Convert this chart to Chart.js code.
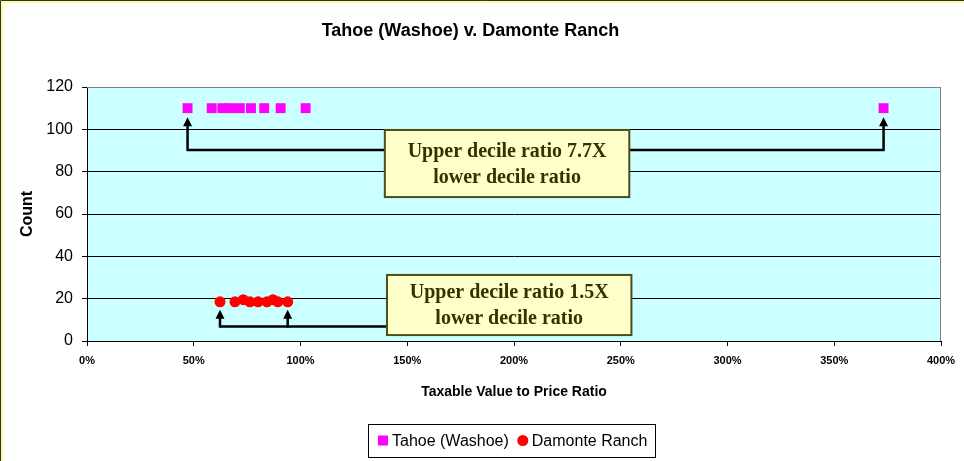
<!DOCTYPE html>
<html>
<head>
<meta charset="utf-8">
<script src="https://cdn.jsdelivr.net/npm/chart.js@4"></script>
<style>
  html, body { margin: 0; padding: 0; background: #fff; }
  #wrap { width: 964px; height: 461px; }
</style>
</head>
<body>
<div id="wrap"><canvas id="chart" width="964" height="461"></canvas></div>
<script>
// ratio (%) and count for each sale
const tahoeRatio = [47.1, 58.4, 63.4, 67.0, 71.6, 76.8, 83.0, 90.7, 102.4, 373.1];
const tahoeCount = [110, 110, 110, 110, 110, 110, 110, 110, 110, 110];
const damonteRatio = [62.3, 69.3, 73.2, 76.3, 80.1, 84.3, 87.1, 89.4, 94.0];
const damonteCount = [18.5, 18.5, 19.5, 18.5, 18.5, 18.5, 19.5, 18.5, 18.5];

const seriesNames = ['Tahoe (Washoe)', 'Damonte Ranch'];
const xTicks = [0, 50, 100, 150, 200, 250, 300, 350, 400];
const yTicks = [0, 20, 40, 60, 80, 100, 120];

const noteTexts = [
  ['Upper decile ratio 7.7X', 'lower decile ratio'],
  ['Upper decile ratio 1.5X', 'lower decile ratio']
];

const SANS = '"Liberation Sans", Arial, sans-serif';
const SERIF = '"Liberation Serif", "Times New Roman", serif';

function toPoints(xs, ys) {
  return xs.map((x, i) => ({ x: x, y: ys[i] }));
}

// light blue plot area, grey frame, thin outer border of the picture
const frame = {
  id: 'frame',
  beforeDraw(chart) {
    const { ctx, chartArea: a } = chart;
    ctx.save();
    ctx.fillStyle = '#fff';
    ctx.fillRect(0, 0, chart.width, chart.height);
    ctx.fillStyle = '#ccffff';
    ctx.fillRect(a.left, a.top, a.right - a.left, a.bottom - a.top);
    ctx.strokeStyle = '#333';
    ctx.lineWidth = 1;
    ctx.beginPath();
    ctx.moveTo(0.5, chart.height); ctx.lineTo(0.5, 0.5); ctx.lineTo(chart.width, 0.5);
    ctx.stroke();
    ctx.strokeStyle = '#ffff99';
    ctx.lineWidth = 2;
    ctx.beginPath();
    ctx.moveTo(2, chart.height); ctx.lineTo(2, 2); ctx.lineTo(chart.width, 2);
    ctx.stroke();
    ctx.restore();
  },
  afterDatasetsDraw(chart) {
    const { ctx, chartArea: a } = chart;
    ctx.save();
    ctx.strokeStyle = '#808080';
    ctx.lineWidth = 1;
    ctx.beginPath();
    ctx.moveTo(a.left, a.top + 0.5);
    ctx.lineTo(a.right - 0.5, a.top + 0.5);
    ctx.lineTo(a.right - 0.5, a.bottom);
    ctx.stroke();
    ctx.restore();
  }
};

// boxed legend under the axis title, centred on the plot area
const boxLegend = {
  id: 'boxLegend',
  afterDraw(chart) {
    const { ctx, chartArea: a } = chart;
    const sets = chart.data.datasets;
    ctx.save();
    ctx.font = '16px ' + SANS;
    const widths = sets.map(ds => ctx.measureText(ds.label).width);
    const itemW = widths.map(w => 10 + 4 + w);
    const gap = 9;
    const padL = 10, padR = 8;
    const total = padL + itemW[0] + gap + itemW[1] + padR;
    const left = Math.round((a.left + a.right) / 2 - total / 2) - 2;
    const top = 424, h = 33, cy = top + h / 2;
    ctx.fillStyle = '#fff';
    ctx.fillRect(left, top, total, h);
    ctx.strokeStyle = '#000';
    ctx.lineWidth = 1;
    ctx.strokeRect(left + 0.5, top + 0.5, Math.round(total), h);
    let x = left + padL;
    ctx.textBaseline = 'middle';
    ctx.textAlign = 'left';
    sets.forEach((ds, i) => {
      ctx.fillStyle = ds.backgroundColor;
      if (ds.pointStyle === 'rect') {
        ctx.fillRect(x, cy - 5, 10, 10);
      } else {
        ctx.beginPath();
        ctx.arc(x + 5, cy, 5.5, 0, Math.PI * 2);
        ctx.fill();
      }
      ctx.fillStyle = '#000';
      ctx.fillText(ds.label, x + 14, cy + 1);
      x += itemW[i] + gap;
    });
    ctx.restore();
  }
};

function arrowUp(ctx, x, yFrom, yTip) {
  ctx.beginPath();
  ctx.moveTo(x, yFrom);
  ctx.lineTo(x, yTip + 8);
  ctx.stroke();
  ctx.beginPath();
  ctx.moveTo(x, yTip);
  ctx.lineTo(x - 4.5, yTip + 9);
  ctx.lineTo(x + 4.5, yTip + 9);
  ctx.closePath();
  ctx.fill();
}

function noteBox(ctx, xs, ys, x1, x2, y1, y2, lines) {
  const l = xs.getPixelForValue(x1), r = xs.getPixelForValue(x2);
  const t = ys.getPixelForValue(y1), b = ys.getPixelForValue(y2);
  ctx.fillStyle = '#ffffcc';
  ctx.fillRect(l, t, r - l, b - t);
  ctx.strokeStyle = '#4d4d1a';
  ctx.lineWidth = 2;
  ctx.strokeRect(l, t, r - l, b - t);
  ctx.fillStyle = '#333300';
  ctx.font = 'bold 20px ' + SERIF;
  ctx.textAlign = 'center';
  ctx.textBaseline = 'middle';
  const cx = (l + r) / 2, cy = (t + b) / 2;
  ctx.fillText(lines[0], cx, cy - 12);
  ctx.fillText(lines[1], cx, cy + 14);
}

// callouts linking lower and upper decile points
const callouts = {
  id: 'callouts',
  afterDatasetsDraw(chart) {
    const { ctx } = chart;
    const xs = chart.scales.x, ys = chart.scales.y;
    ctx.save();
    ctx.strokeStyle = '#000';
    ctx.fillStyle = '#000';
    ctx.lineWidth = 2.5;

    // Tahoe
    const tLo = xs.getPixelForValue(Math.min(...tahoeRatio));
    const tHi = xs.getPixelForValue(Math.max(...tahoeRatio));
    const tTip = ys.getPixelForValue(tahoeCount[0]) + 9;
    const tElbow = ys.getPixelForValue(90.2);
    ctx.beginPath();
    ctx.moveTo(tLo, tElbow); ctx.lineTo(tHi, tElbow);
    ctx.stroke();
    arrowUp(ctx, tLo, tElbow + 1, tTip);
    arrowUp(ctx, tHi, tElbow + 1, tTip);

    // Damonte
    const dLo = xs.getPixelForValue(Math.min(...damonteRatio));
    const dHi = xs.getPixelForValue(Math.max(...damonteRatio));
    const dTip = ys.getPixelForValue(18.5) + 8;
    const dElbow = ys.getPixelForValue(6.8);
    const box2Left = xs.getPixelForValue(140.5);
    ctx.beginPath();
    ctx.moveTo(dLo, dElbow); ctx.lineTo(box2Left, dElbow);
    ctx.stroke();
    arrowUp(ctx, dLo, dElbow + 1, dTip);
    arrowUp(ctx, dHi, dElbow + 1, dTip);

    noteBox(ctx, xs, ys, 139.5, 254, 99.7, 68, noteTexts[0]);
    noteBox(ctx, xs, ys, 140.5, 255, 31.2, 2.8, noteTexts[1]);
    ctx.restore();
  }
};

new Chart(document.getElementById('chart'), {
  type: 'scatter',
  data: {
    datasets: [
      {
        label: seriesNames[0],
        data: toPoints(tahoeRatio, tahoeCount),
        pointStyle: 'rect',
        pointRadius: 7,
        backgroundColor: '#ff00ff',
        borderColor: '#ff00ff',
        borderWidth: 0
      },
      {
        label: seriesNames[1],
        data: toPoints(damonteRatio, damonteCount),
        pointStyle: 'circle',
        pointRadius: 5.5,
        backgroundColor: '#ff0000',
        borderColor: '#ff0000',
        borderWidth: 0
      }
    ]
  },
  options: {
    responsive: false,
    animation: false,
    layout: { padding: { left: 0, right: 23, top: 0, bottom: 37 } },
    plugins: {
      tooltip: { enabled: false },
      legend: { display: false },
      title: {
        display: true,
        text: 'Tahoe (Washoe) v. Damonte Ranch',
        color: '#000',
        font: { family: SANS, size: 18, weight: 'bold' },
        padding: { top: 20, bottom: 45.4 }
      }
    },
    scales: {
      x: {
        type: 'linear',
        min: 0,
        max: 400,
        afterBuildTicks(scale) { scale.ticks = xTicks.map(v => ({ value: v })); },
        afterFit(scale) { scale.height = 83; },
        ticks: {
          color: '#000',
          padding: 8,
          maxRotation: 0,
          font: { family: SANS, size: 11, weight: 'bold' },
          callback: v => v + '%'
        },
        grid: { drawOnChartArea: false, drawTicks: true, tickLength: 5, tickColor: '#000' },
        border: { color: '#000', width: 1 },
        title: {
          display: true,
          text: 'Taxable Value to Price Ratio',
          color: '#000',
          font: { family: SANS, size: 14, weight: 'bold' },
          padding: { top: 0, bottom: 23 }
        }
      },
      y: {
        type: 'linear',
        min: 0,
        max: 120,
        afterBuildTicks(scale) { scale.ticks = yTicks.map(v => ({ value: v })); },
        afterFit(scale) { scale.width = 87; },
        ticks: {
          color: '#000',
          padding: 9,
          font: { family: SANS, size: 16 }
        },
        grid: {
          color: c => (c.tick && c.tick.value === 120 ? '#808080' : '#000'),
          tickColor: '#000',
          tickLength: 5,
          lineWidth: 1
        },
        border: { color: '#000', width: 1 },
        title: {
          display: true,
          text: 'Count',
          color: '#000',
          font: { family: SANS, size: 16, weight: 'bold' },
          padding: { top: 18, bottom: 0 }
        }
      }
    }
  },
  plugins: [frame, callouts, boxLegend]
});
</script>
</body>
</html>
